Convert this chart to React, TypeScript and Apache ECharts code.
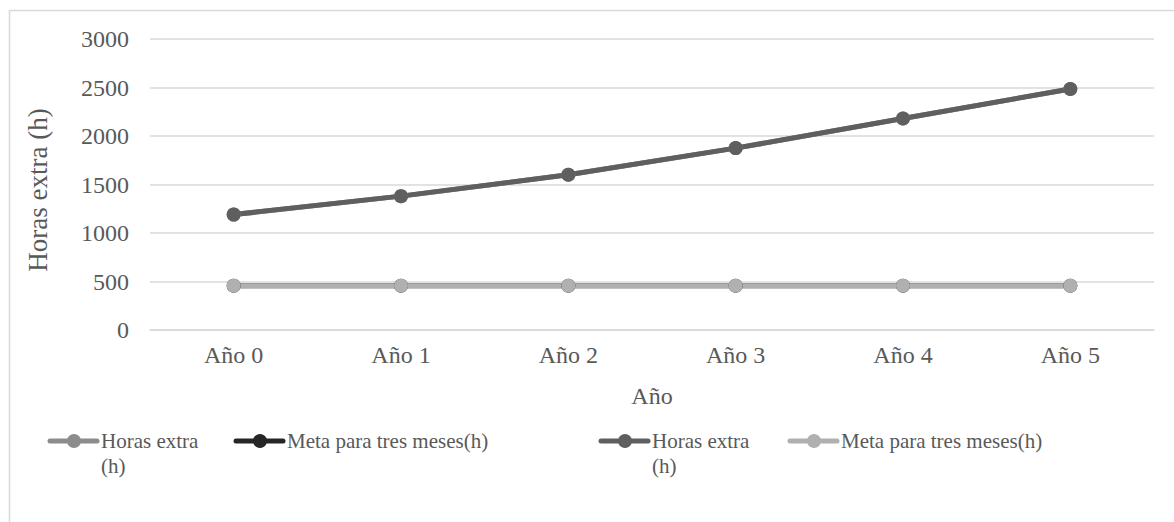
import React, { useEffect, useRef } from "react";
import * as echarts from "echarts";

// Categories and values
const years = ["Año 0", "Año 1", "Año 2", "Año 3", "Año 4", "Año 5"];
const horasExtraA = [1190, 1380, 1600, 1875, 2180, 2485];
const metaA = [456, 456, 456, 456, 456, 456];
const horasExtraB = [1190, 1380, 1600, 1875, 2180, 2485];
const metaB = [456, 456, 456, 456, 456, 456];

const seriesNames = [
  "Horas extra (h)",
  "Meta para tres meses(h)",
  "Horas extra (h)",
  "Meta para tres meses(h)",
];
const seriesColors = ["#8c8c8c", "#262626", "#5f5f5f", "#b0b0b0"];
const seriesData = [horasExtraA, metaA, horasExtraB, metaB];

const FONT = "'Liberation Serif', 'Times New Roman', serif";
const TEXT = "#595959";

export default function App() {
  const ref = useRef<HTMLDivElement>(null);

  useEffect(() => {
    document.body.style.margin = "0";
    const chart = echarts.init(ref.current!, null, { renderer: "svg" });

    const legendX = [50, 236, 601, 790];
    const legendY = 441;
    const legendGraphics: any[] = [];
    seriesNames.forEach((name, i) => {
      const x0 = legendX[i];
      legendGraphics.push({
        type: "line",
        shape: { x1: x0, y1: legendY, x2: x0 + 47, y2: legendY },
        style: { stroke: seriesColors[i], lineWidth: 5, lineCap: "round" },
      });
      legendGraphics.push({
        type: "circle",
        shape: { cx: x0 + 24, cy: legendY, r: 7 },
        style: { fill: seriesColors[i] },
      });
      legendGraphics.push({
        type: "text",
        x: x0 + 51,
        y: legendY - 13,
        style: {
          text: name.replace(" (h)", "\n(h)"),
          font: `21px ${FONT}`,
          fill: TEXT,
          lineHeight: 25,
          verticalAlign: "top",
        },
      });
    });

    chart.setOption({
      animation: false,
      backgroundColor: "#ffffff",
      textStyle: { fontFamily: FONT },
      grid: { left: 150, right: 20, top: 39, bottom: 192 },
      xAxis: {
        type: "category",
        data: years,
        boundaryGap: true,
        name: "Año",
        nameLocation: "middle",
        nameGap: 54,
        nameTextStyle: { color: TEXT, fontSize: 24, fontFamily: FONT },
        axisLine: { show: true, lineStyle: { color: "#d9d9d9", width: 1.5 } },
        axisTick: { show: false },
        axisLabel: { color: TEXT, fontSize: 24, fontFamily: FONT, margin: 13 },
      },
      yAxis: {
        type: "value",
        min: 0,
        max: 3000,
        interval: 500,
        name: "Horas extra (h)",
        nameLocation: "middle",
        nameGap: 99,
        nameTextStyle: {
          color: TEXT,
          fontSize: 27,
          fontFamily: FONT,
          padding: [0, 11, 0, 0],
        },
        axisLine: { show: false },
        axisTick: { show: false },
        axisLabel: {
          color: TEXT,
          fontSize: 24,
          fontFamily: FONT,
          margin: 21,
          formatter: (v: number) => String(v),
        },
        splitLine: { lineStyle: { color: "#d9d9d9", width: 1.5 } },
      },
      series: seriesNames.map((name, i) => ({
        name,
        type: "line",
        data: seriesData[i],
        symbol: "circle",
        symbolSize: 14,
        itemStyle: { color: seriesColors[i] },
        lineStyle: { color: seriesColors[i], width: 5 },
      })),
      graphic: [
        {
          type: "rect",
          shape: { x: 9.5, y: 10.5, width: 1300, height: 700 },
          style: { fill: "none", stroke: "#d9d9d9", lineWidth: 1.5 },
          z: -1,
        },
        ...legendGraphics,
      ],
    });

    return () => chart.dispose();
  }, []);

  return <div ref={ref} style={{ width: 1174, height: 522 }} />;
}
